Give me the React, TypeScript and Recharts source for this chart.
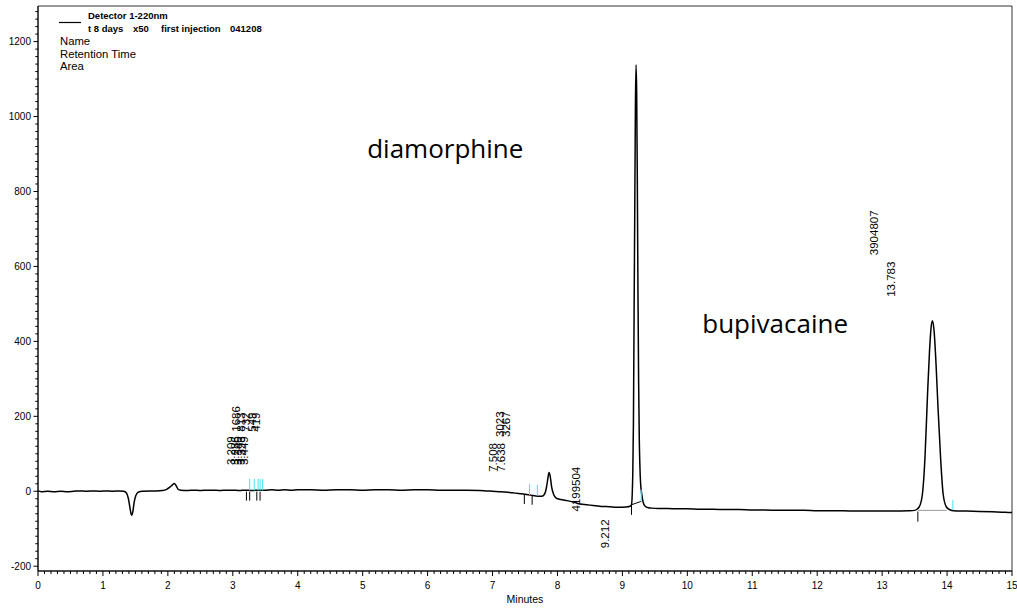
import {
  ComposedChart,
  Line,
  XAxis,
  YAxis,
  ReferenceArea,
  ReferenceDot,
  ReferenceLine,
} from "recharts";

const W = 1017;
const H = 608;
const Y_MIN = -212.8;
const Y_MAX = 1295;

// detector trace, minutes vs mAU
const times = [
  0.0, 0.05, 0.15, 0.25, 0.35, 0.45, 0.55, 0.65, 0.75, 0.85, 0.95, 1.05, 1.15, 1.25, 1.32,
  1.36, 1.39, 1.42, 1.44, 1.46, 1.48, 1.51, 1.55, 1.62, 1.72, 1.82, 1.92, 1.98, 2.03, 2.07,
  2.1, 2.13, 2.16, 2.2, 2.3, 2.4, 2.5, 2.6, 2.7, 2.8, 2.9, 3.0, 3.1, 3.2, 3.3, 3.4, 3.5, 3.6,
  3.7, 3.8, 3.9, 4.0, 4.2, 4.4, 4.6, 4.8, 5.0, 5.2, 5.4, 5.6, 5.8, 6.0, 6.2, 6.4, 6.6, 6.8,
  6.9, 7.0, 7.1, 7.2, 7.3, 7.4, 7.5, 7.6, 7.7, 7.76, 7.8, 7.83, 7.85, 7.87, 7.89, 7.91, 7.94,
  7.98, 8.05, 8.15, 8.25, 8.35, 8.45, 8.55, 8.65, 8.75, 8.85, 8.95, 9.05, 9.12, 9.14, 9.16,
  9.17, 9.18, 9.19, 9.2, 9.21, 9.22, 9.23, 9.24, 9.25, 9.26, 9.27, 9.28, 9.3, 9.32, 9.35,
  9.4, 9.45, 9.55, 9.7, 9.85, 10.0, 10.2, 10.4, 10.6, 10.8, 11.0, 11.2, 11.4, 11.6, 11.8,
  12.0, 12.2, 12.4, 12.6, 12.8, 13.0, 13.2, 13.4, 13.5, 13.57, 13.62, 13.66, 13.7, 13.73,
  13.755, 13.775, 13.8, 13.83, 13.86, 13.9, 13.94, 13.99, 14.05, 14.1, 14.3, 14.5, 14.7, 14.9,
  15.0,
];
const signal = [
  1, -1, 0, -1, 0, -1, 0, 1, 0, 1, 0, 1, 0, 1, 0,
  -4, -18, -48, -64, -55, -30, -10, -2, 0, 1, 1, 2, 5, 11, 17,
  21, 14, 5, 3, 2, 3, 2, 3, 3, 2, 3, 3, 2, 3, 2, 3, 3, 4,
  3, 4, 3, 4, 4, 3, 4, 4, 3, 4, 4, 3, 4, 4, 3, 3, 3, 2,
  1, 0, -1, -2, -4, -6, -8, -11, -13, -13, -8, 10, 32, 50, 38, 12, -8,
  -18, -22, -25, -29, -34, -36, -38, -40, -41, -42, -43, -42, -40, -36, 48,
  184, 470, 740, 1020, 1138, 1060, 820, 530, 290, 140, 65, 22, -10, -30, -40,
  -44, -45, -46, -46, -47, -47, -48, -48, -49, -49, -50, -50, -51, -51, -51,
  -52, -52, -52, -53, -53, -53, -53, -52, -51, -42, -8, 90, 262, 375,
  438, 455, 428, 340, 225, 90, -8, -42, -50, -52, -53, -54, -55, -56,
  -57,
];
const trace = times.map((t, i) => ({ t, v: signal[i] }));

const xTicks = Array.from({ length: 151 }, (_, i) => i / 10);
const yMajor = [-200, 0, 200, 400, 600, 800, 1000, 1200];
const yTicks = Array.from({ length: 75 }, (_, i) => -200 + i * 20);

// peak annotations: position (min, mAU at text start) and text
const peakLabels = [
  { t: 2.98, y: 70, text: "3.209" },
  { t: 3.03, y: 70, text: "3.286" },
  { t: 3.08, y: 70, text: "3.340" },
  { t: 3.13, y: 70, text: "3.393" },
  { t: 3.18, y: 70, text: "3.449" },
  { t: 3.05, y: 159, text: "1686" },
  { t: 3.13, y: 159, text: "813" },
  { t: 3.21, y: 159, text: "732" },
  { t: 3.29, y: 159, text: "549" },
  { t: 3.36, y: 159, text: "419" },
  { t: 7.015, y: 52, text: "7.508" },
  { t: 7.13, y: 52, text: "7.638" },
  { t: 7.12, y: 145, text: "3023" },
  { t: 7.2, y: 145, text: "3267" },
  { t: 8.28, y: -54, text: "4199504" },
  { t: 8.73, y: -152, text: "9.212" },
  { t: 12.88, y: 630, text: "3904807" },
  { t: 13.14, y: 519, text: "13.783" },
];

const compoundNames = [
  { t: 5.07, y: 889, text: "diamorphine" },
  { t: 10.23, y: 423, text: "bupivacaine" },
];

// integration marks: peak start/end (black) and detected ends (cyan)
const startMarks = [
  { t: 3.21, from: -1, to: -25 },
  { t: 3.26, from: -1, to: -25 },
  { t: 3.37, from: -1, to: -25 },
  { t: 3.42, from: -1, to: -25 },
  { t: 7.49, from: -10, to: -34 },
  { t: 7.61, from: -12, to: -36 },
  { t: 9.14, from: -31, to: -63 },
  { t: 13.55, from: -54, to: -81 },
];
const endMarks = [
  { t: 3.26, from: 2, to: 33 },
  { t: 3.33, from: 2, to: 33 },
  { t: 3.39, from: 2, to: 33 },
  { t: 3.42, from: 2, to: 33 },
  { t: 3.46, from: 2, to: 33 },
  { t: 7.57, from: -10, to: 19 },
  { t: 7.69, from: -12, to: 17 },
  { t: 9.29, from: -28, to: 4 },
  { t: 14.09, from: -50, to: -23 },
];
const baselineSegments = [
  { t1: 9.14, y1: -36, t2: 9.29, y2: -27, color: "#000" },
  { t1: 13.55, y1: -51, t2: 13.99, y2: -51, color: "#999" },
];

const headerBold = ["Detector 1-220nm"];
const headerRun = [
  { x: 88, text: "t 8 days" },
  { x: 133, text: "x50" },
  { x: 161, text: "first injection" },
  { x: 230, text: "041208" },
];
const headerFields = ["Name", "Retention Time", "Area"];

const AXIS_FONT = "'Liberation Sans', Arial, sans-serif";

function XTick({ x, y, payload }: any) {
  const v = payload.value;
  const major = Math.abs(v - Math.round(v)) < 1e-6;
  return (
    <g>
      <line x1={x} x2={x} y1={y} y2={y + (major ? 5 : 3)} stroke="#000" strokeWidth={1} />
      {major && (
        <text x={x} y={y + 18} textAnchor="middle" fontSize={10} fontFamily={AXIS_FONT} fill="#000">
          {Math.round(v)}
        </text>
      )}
    </g>
  );
}

function YTick({ x, y, payload }: any) {
  const v = payload.value;
  const major = yMajor.includes(v);
  return (
    <g>
      <line x1={x} x2={x - (major ? 4.5 : 2.7)} y1={y} y2={y} stroke="#000" strokeWidth={1} />
      {major && (
        <text
          x={x - 7}
          y={y}
          textAnchor="end"
          dominantBaseline="central"
          fontSize={10}
          fontFamily={AXIS_FONT}
          fill="#000"
        >
          {v}
        </text>
      )}
    </g>
  );
}

function rotatedText(text: string) {
  return (p: any) => (
    <text
      x={p.cx}
      y={p.cy}
      transform={`rotate(-90 ${p.cx} ${p.cy})`}
      textAnchor="start"
      dominantBaseline="central"
      fontSize={11.5}
      fontFamily={AXIS_FONT}
      fill="#000"
    >
      {text}
    </text>
  );
}

function nameText(text: string) {
  return (p: any) => (
    <text x={p.cx} y={p.cy} fontSize={26} fontFamily="'Open Sans', sans-serif" fill="#000">
      {text}
    </text>
  );
}

export default function App() {
  return (
    <div style={{ position: "absolute", left: 0, top: 0, width: W, height: H, background: "#fff" }}>
      <ComposedChart width={W} height={H} data={trace} margin={{ top: 6, right: 5, bottom: 0, left: 0 }}>
        <XAxis
          dataKey="t"
          type="number"
          domain={[0, 15]}
          ticks={xTicks}
          interval={0}
          height={37}
          tickSize={0}
          tickMargin={0}
          tickLine={false}
          tick={<XTick />}
          axisLine={{ stroke: "#000" }}
          label={{
            value: "Minutes",
            position: "insideBottom",
            offset: 5,
            fontSize: 10.5,
            fontFamily: AXIS_FONT,
            fill: "#000",
          }}
        />
        <YAxis
          type="number"
          domain={[Y_MIN, Y_MAX]}
          allowDataOverflow
          ticks={yTicks}
          interval={0}
          width={38}
          tickSize={0}
          tickMargin={0}
          tickLine={false}
          tick={<YTick />}
          axisLine={{ stroke: "#000" }}
        />
        <ReferenceArea
          x1={0}
          x2={15}
          y1={Y_MIN}
          y2={Y_MAX}
          fill="none"
          stroke="#333"
          strokeWidth={1}
          ifOverflow="visible"
        />
        {baselineSegments.map((s, i) => (
          <ReferenceLine
            key={`b${i}`}
            segment={[
              { x: s.t1, y: s.y1 },
              { x: s.t2, y: s.y2 },
            ]}
            stroke={s.color}
            strokeWidth={1}
          />
        ))}
        <Line
          type="monotone"
          dataKey="v"
          stroke="#000"
          strokeWidth={1.5}
          dot={false}
          isAnimationActive={false}
        />
        {startMarks.map((m, i) => (
          <ReferenceLine
            key={`s${i}`}
            segment={[
              { x: m.t, y: m.from },
              { x: m.t, y: m.to },
            ]}
            stroke="#000"
            strokeWidth={1}
          />
        ))}
        {endMarks.map((m, i) => (
          <ReferenceLine
            key={`e${i}`}
            segment={[
              { x: m.t, y: m.from },
              { x: m.t, y: m.to },
            ]}
            stroke="#3fe4f0"
            strokeWidth={1}
          />
        ))}
        {peakLabels.map((l, i) => (
          <ReferenceDot key={`l${i}`} x={l.t} y={l.y} r={0} shape={rotatedText(l.text)} />
        ))}
        {compoundNames.map((c, i) => (
          <ReferenceDot key={`c${i}`} x={c.t} y={c.y} r={0} shape={nameText(c.text)} />
        ))}
      </ComposedChart>
      <svg
        width={W}
        height={H}
        style={{ position: "absolute", left: 0, top: 0, pointerEvents: "none" }}
        fontFamily={AXIS_FONT}
      >
        <line x1={59} x2={81} y1={22.5} y2={22.5} stroke="#000" strokeWidth={1.2} />
        {headerBold.map((t, i) => (
          <text key={t} x={88} y={19.3 + i * 12.4} fontSize={9.5} fontWeight="bold" fill="#000">
            {t}
          </text>
        ))}
        {headerRun.map((r) => (
          <text key={r.text} x={r.x} y={31.7} fontSize={9.5} fontWeight="bold" fill="#000">
            {r.text}
          </text>
        ))}
        {headerFields.map((f, i) => (
          <text key={f} x={60} y={45 + i * 12.5} fontSize={11.3} fill="#000">
            {f}
          </text>
        ))}
      </svg>
    </div>
  );
}
